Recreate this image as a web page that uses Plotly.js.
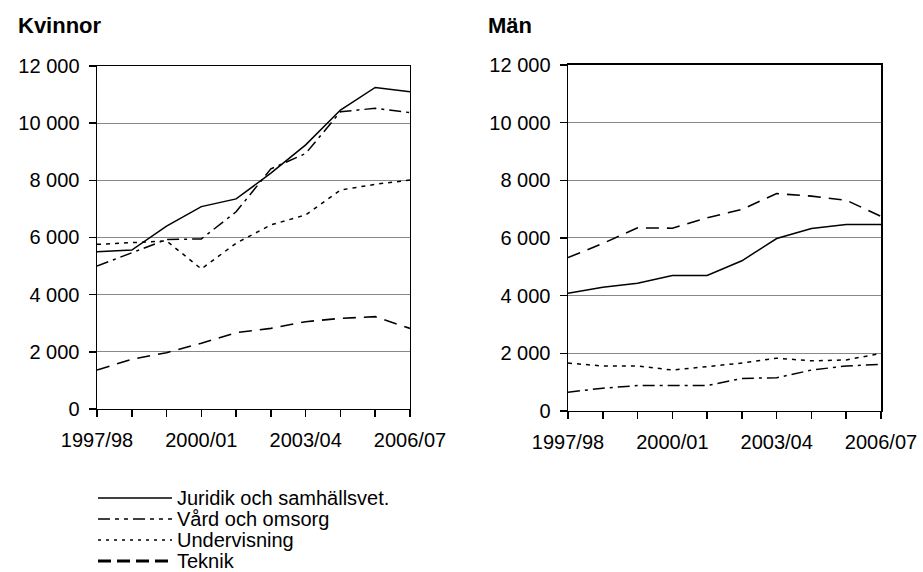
<!DOCTYPE html>
<html>
<head>
<meta charset="utf-8">
<script src="https://cdn.plot.ly/plotly-3.0.1.min.js"></script>
<style>
  body { margin: 0; background: #fff; }
  #chart { width: 923px; height: 572px; }
</style>
</head>
<body>
<div id="chart"></div>
<script>
// Läsår
var years = ["1997/98", "1998/99", "1999/00", "2000/01", "2001/02",
             "2002/03", "2003/04", "2004/05", "2005/06", "2006/07"];
var yearLabels = ["1997/98", "", "", "2000/01", "", "", "2003/04", "", "", "2006/07"];

// Kvinnor
var kvJuridik = [5500, 5560, 6400, 7080, 7350, 8250, 9240, 10460, 11250, 11100];
var kvVard    = [5000, 5470, 5930, 5950, 6900, 8400, 8940, 10400, 10520, 10370];
var kvUnderv  = [5760, 5820, 5880, 4900, 5800, 6440, 6790, 7660, 7860, 8010];
var kvTeknik  = [1365, 1740, 1970, 2300, 2670, 2820, 3055, 3170, 3230, 2820];

// Män
var manJuridik = [4080, 4290, 4430, 4700, 4700, 5210, 5980, 6330, 6470, 6470];
var manVard    = [650, 790, 880, 880, 880, 1130, 1150, 1420, 1560, 1620];
var manUnderv  = [1660, 1560, 1560, 1420, 1540, 1660, 1830, 1740, 1770, 2000];
var manTeknik  = [5320, 5810, 6350, 6340, 6700, 6990, 7540, 7450, 7310, 6750];

var names = ["Juridik och samhällsvet.", "Vård och omsorg", "Undervisning", "Teknik"];
var styles = [
  {color: "#000", width: 1.5, dash: "solid"},
  {color: "#000", width: 1.5, dash: "12px,5px,3px,5px"},
  {color: "#000", width: 1.5, dash: "4px,5px"},
  {color: "#000", width: 1.6, dash: "13px,8px"}
];
// legend samples are drawn a bit heavier, as in the original
var legendStyles = [
  {color: "#000", width: 1.5, dash: "solid"},
  {color: "#000", width: 1.5, dash: "12px,5px,4px,5px,4px,5px"},
  {color: "#000", width: 1.5, dash: "3px,5px"},
  {color: "#000", width: 3, dash: "13px,6px"}
];

var kvSeries = [kvJuridik, kvVard, kvUnderv, kvTeknik];
var manSeries = [manJuridik, manVard, manUnderv, manTeknik];

var data = [];
kvSeries.forEach(function(s, i){
  data.push({x: years, y: s, name: names[i], type: "scatter", mode: "lines",
             line: styles[i], xaxis: "x", yaxis: "y", showlegend: false});
});
manSeries.forEach(function(s, i){
  data.push({x: years, y: s, name: names[i], type: "scatter", mode: "lines",
             line: styles[i], xaxis: "x2", yaxis: "y2", showlegend: false});
});

var font = {family: "Liberation Sans, Arial, sans-serif", size: 20, color: "#000"};
var titleFont = {family: "Liberation Sans, Arial, sans-serif", size: 22, color: "#000"};

function xax(dom){
  return {domain: dom, type: "category", range: [0, 9],
          tickvals: years, ticktext: yearLabels,
          ticks: "outside", ticklen: 7, tickwidth: 1.5, tickcolor: "#000",
          ticklabelstandoff: 6,
          showline: true, linecolor: "#000", linewidth: 1.5, mirror: true,
          showgrid: false, zeroline: false, tickfont: font, fixedrange: true};
}
function yax(dom, anchor){
  return {domain: dom, anchor: anchor, range: [0, 12000], dtick: 2000,
          tickformat: ",d", ticks: "outside", ticklen: 7, tickwidth: 1.5,
          ticklabelstandoff: 5,
          tickcolor: "#000", showline: true, linecolor: "#000", linewidth: 1.5,
          mirror: true, showgrid: true, gridcolor: "#888", gridwidth: 1,
          zeroline: false, tickfont: font, fixedrange: true};
}

// legend below the left panel
var shapes = [];
var annotations = [
  {text: "<b>Kvinnor</b>", xref: "paper", yref: "paper", x: 16 / 923, y: 1 - 25 / 572,
   xanchor: "left", yanchor: "middle", showarrow: false, font: titleFont},
  {text: "<b>Män</b>", xref: "paper", yref: "paper", x: 486 / 923, y: 1 - 25 / 572,
   xanchor: "left", yanchor: "middle", showarrow: false, font: titleFont}
];
var legY = [498, 519, 540, 561];
names.forEach(function(n, i){
  var yy = 1 - legY[i] / 572;
  shapes.push({type: "line", xref: "paper", yref: "paper",
               x0: 98 / 923, x1: 172 / 923, y0: yy, y1: yy, line: legendStyles[i]});
  annotations.push({text: n, xref: "paper", yref: "paper", x: 175 / 923, y: yy,
                    xanchor: "left", yanchor: "middle", showarrow: false, font: font});
});

var layout = {
  width: 923, height: 572,
  margin: {l: 0, r: 0, t: 0, b: 0},
  paper_bgcolor: "#fff", plot_bgcolor: "#fff",
  font: font,
  separators: ", ",
  showlegend: false,
  xaxis: Object.assign(xax([0.1051, 0.4442]), {anchor: "y"}),
  yaxis: yax([0.2850, 0.8846], "x"),
  xaxis2: Object.assign(xax([0.6154, 0.9545]), {anchor: "y2"}),
  yaxis2: yax([0.2815, 0.8864], "x2"),
  shapes: shapes,
  annotations: annotations
};

Plotly.newPlot("chart", data, layout, {displayModeBar: false, staticPlot: true});
</script>
</body>
</html>
